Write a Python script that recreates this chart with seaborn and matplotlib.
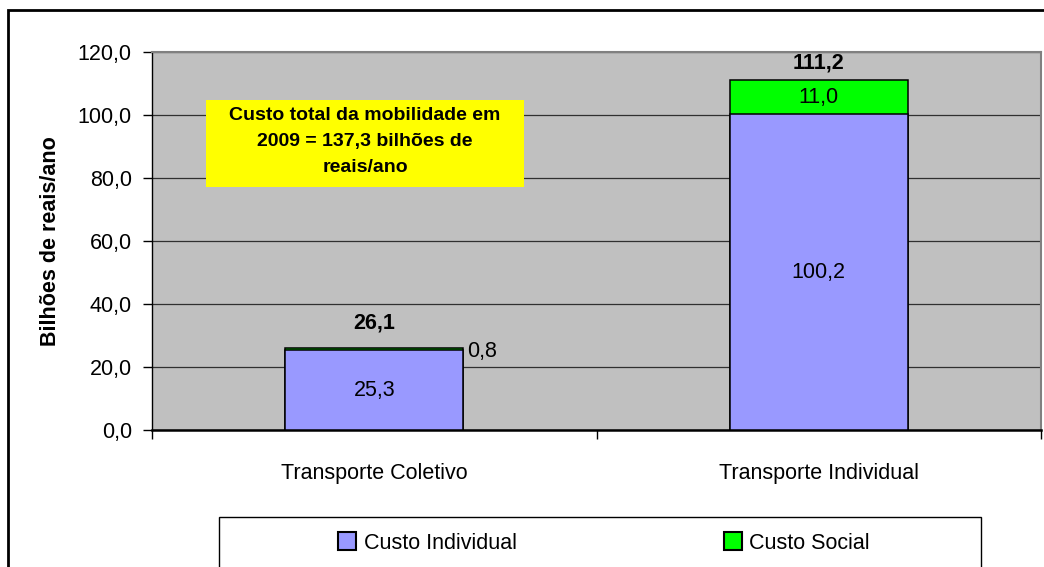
import matplotlib
matplotlib.use("Agg")
import matplotlib.pyplot as plt
import seaborn as sns
import numpy as np
from matplotlib.patches import Rectangle, Patch
from matplotlib.ticker import FuncFormatter

# data (bilhões de reais/ano)
categories = ["Transporte Coletivo", "Transporte Individual"]
custo_individual = [25.3, 100.2]
custo_social = [0.8, 11.0]
totals = [round(a + b, 1) for a, b in zip(custo_individual, custo_social)]
series_names = ["Custo Individual", "Custo Social"]
box_text = "Custo total da mobilidade em\n2009 = 137,3 bilhões de\nreais/ano"

c_ind = "#9999FF"
c_soc = "#00FF00"

sns.set_style("white")
plt.rcParams["font.family"] = ["Liberation Sans", "DejaVu Sans"]
plt.rcParams["text.color"] = "black"
plt.rcParams["xtick.color"] = "black"
plt.rcParams["ytick.color"] = "black"
plt.rcParams["axes.labelcolor"] = "black"
fs = 15.5


def br(v):
    return f"{v:.1f}".replace(".", ",")


fig = plt.figure(figsize=(10.44, 5.67), dpi=100)
ax = fig.add_axes([152 / 1044, 1 - 430 / 567, (1041 - 152) / 1044, (430 - 52) / 567])
ax.set_facecolor("#C0C0C0")

# stacked bars: total (green) behind, individual (purple) in front
sns.barplot(x=categories, y=totals, color=c_soc, saturation=1, width=0.4,
            edgecolor="black", linewidth=1.1, ax=ax, zorder=3)
sns.barplot(x=categories, y=custo_individual, color=c_ind, saturation=1, width=0.4,
            edgecolor="black", linewidth=1.1, ax=ax, zorder=4)

ax.set_xlim(-0.5, 1.5)
ax.set_ylim(0, 120)
ax.set_yticks(np.arange(0, 121, 20))
ax.yaxis.set_major_formatter(FuncFormatter(lambda v, p: br(v)))
ax.grid(axis="y", color="#303030", linewidth=0.9, zorder=1)
ax.set_axisbelow(True)

ax.set_xticks([-0.5, 0.5, 1.5], minor=True)
ax.tick_params(axis="x", which="major", length=0, pad=24, labelsize=fs)
ax.tick_params(axis="x", which="minor", length=6.5, width=1, color="black", direction="out", bottom=True)
ax.tick_params(axis="y", length=6.5, width=1, color="black", direction="out", left=True, pad=8, labelsize=fs)
ax.set_xlabel("")
ax.set_ylabel("Bilhões de reais/ano", fontsize=fs, fontweight="bold", labelpad=12)

for side in ["top", "right"]:
    ax.spines[side].set_color("#808080")
    ax.spines[side].set_linewidth(1.5)
ax.spines["left"].set_color("black")
ax.spines["left"].set_linewidth(1)
ax.spines["bottom"].set_color("black")
ax.spines["bottom"].set_linewidth(1.8)

# value labels
for i, (a, b, t) in enumerate(zip(custo_individual, custo_social, totals)):
    ax.text(i, a / 2, br(a), ha="center", va="center", fontsize=fs, zorder=5)
    if b > 5:
        ax.text(i, a + b / 2, br(b), ha="center", va="center", fontsize=fs, zorder=5)
    else:
        ax.annotate(br(b), (i + 0.2, a + b / 2), xytext=(3, -2), textcoords="offset points",
                    ha="left", va="center", fontsize=fs, zorder=5)
    off = 10.5 if i == 0 else 4.5
    ax.annotate(br(t), (i, t), xytext=(0, off), textcoords="offset points",
                ha="center", va="bottom", fontsize=fs, fontweight="bold", zorder=5)

# yellow note box
bx0 = (206 - 152) / (1041 - 152)
bx1 = (524 - 152) / (1041 - 152)
by0 = (430 - 187) / (430 - 52)
by1 = (430 - 100) / (430 - 52)
ax.add_patch(Rectangle((bx0, by0), bx1 - bx0, by1 - by0, transform=ax.transAxes,
                       facecolor="#FFFF00", edgecolor="none", zorder=6))
ax.text((bx0 + bx1) / 2, (by0 + by1) / 2 + 0.005, box_text, transform=ax.transAxes,
        ha="center", va="center", fontsize=14, fontweight="bold", linespacing=1.72, zorder=7)

# legend with its own frame
handles = [Patch(facecolor=c_ind, edgecolor="black", linewidth=1.5),
           Patch(facecolor=c_soc, edgecolor="black", linewidth=1.5)]
fig.legend(handles, series_names, loc="center", bbox_to_anchor=(604 / 1044, 1 - 543 / 567),
           ncol=2, frameon=False, fontsize=fs, handlelength=0.85, handleheight=0.85,
           handletextpad=0.35, columnspacing=9.6)
fig.patches.append(Rectangle((219 / 1044, -0.2), (981 - 219) / 1044, 0.2 + (567 - 517) / 567,
                             transform=fig.transFigure, facecolor="none", edgecolor="black",
                             linewidth=1, zorder=0))

# chart border (right and bottom edges fall outside the image)
fig.patches.append(Rectangle((8 / 1044, -0.2), 1.2, 0.2 + (567 - 10) / 567,
                             transform=fig.transFigure, facecolor="none", edgecolor="black",
                             linewidth=2, zorder=0))

fig.savefig("out.png", dpi=100)
